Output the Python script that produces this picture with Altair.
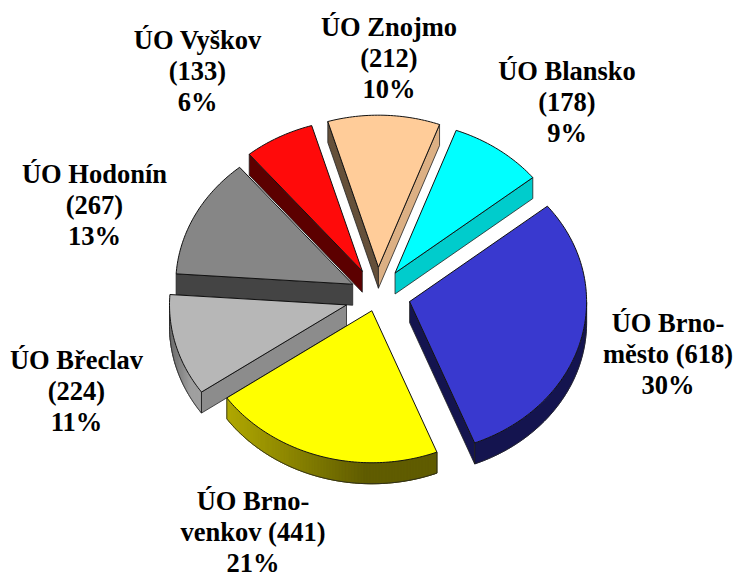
import math
import altair as alt
import pandas as pd

# --- chart values ---
names = ["ÚO Blansko", "ÚO Brno-město", "ÚO Brno-venkov", "ÚO Břeclav", "ÚO Hodonín", "ÚO Vyškov", "ÚO Znojmo"]
values = [178, 618, 441, 224, 267, 133, 212]
percents = [9, 30, 21, 11, 13, 6, 10]
label_lines = [
    ["ÚO Blansko", "(178)", "9%"],
    ["ÚO Brno-", "město (618)", "30%"],
    ["ÚO Brno-", "venkov (441)", "21%"],
    ["ÚO Břeclav", "(224)", "11%"],
    ["ÚO Hodonín", "(267)", "13%"],
    ["ÚO Vyškov", "(133)", "6%"],
    ["ÚO Znojmo", "(212)", "10%"],
]

# --- styles ---
top_colors = ["#00ffff", "#3939cf", "#ffff00", "#b7b7b7", "#868686", "#ff0a0a", "#ffcc99"]
outer_left = ["#00cccc", "#14144f", "#b0a800", "#6a6a6a", "#444444", "#5c0000", "#dcb084"]
outer_right = ["#00cccc", "#14144f", "#605c00", "#a0a0a0", "#444444", "#5c0000", "#dcb084"]
cut_start = ["#00cccc", "#14144f", "#14144f", "#8c8c8c", "#444444", "#5c0000", "#65503a"]
cut_end = ["#00cccc", "#14144f", "#b0a800", "#8c8c8c", "#444444", "#5c0000", "#dcb084"]
label_x = [567, 668, 253, 76.5, 94.5, 197.5, 389]
label_y = [80, 332, 510, 369, 183, 49, 36]
nudge_x = [0, 3, 3, -2, 2, -1, 0]
nudge_y = [1, 2, -7, 5, 3, 1, 0]
START_DEG = 20.2
EXPLODE = 0.17
DEPTH_PX = 21
RX, RY = 177, 152
CX, CY = 377.5, 293
W, H = 726, 571


def hex2rgb(h):
    return [int(h[i:i + 2], 16) for i in (1, 3, 5)]


def mix(a, b, t):
    ca, cb = hex2rgb(a), hex2rgb(b)
    return "#%02x%02x%02x" % tuple(round(x + (y - x) * t) for x, y in zip(ca, cb))


total = sum(values)
depth = DEPTH_PX / RY
tops, sides, edges = [], [], []
angle = START_DEG
for i, v in enumerate(values):
    sweep = v / total * 360
    a0, a1 = angle, angle + sweep
    angle = a1
    mid = math.radians((a0 + a1) / 2)
    ox = EXPLODE * math.sin(mid) + nudge_x[i] / RX
    oy = EXPLODE * math.cos(mid) - nudge_y[i] / RY
    n = max(6, int(sweep))
    angs = [a0 + sweep * k / n for k in range(n + 1)]
    arc = [(ox + math.sin(math.radians(a)), oy + math.cos(math.radians(a))) for a in angs]
    apex = (ox, oy)

    # top face
    for s, (x, y) in enumerate([apex] + arc):
        tops.append(dict(id=f"t{i}", s=s, x=x, y=y, fill=top_colors[i]))

    # outer face: only the part that turns towards the viewer
    vis = [p for a, p in zip(angs, arc) if math.cos(math.radians(a)) < 0]
    if len(vis) > 1:
        xs = [p[0] for p in vis]
        lo, hi = min(xs), max(xs)
        if outer_left[i] == outer_right[i]:
            poly = vis + [(p[0], p[1] - depth) for p in reversed(vis)]
            for s, (x, y) in enumerate(poly):
                sides.append(dict(id=f"o{i}_000", s=s, x=x, y=y, fill=outer_left[i], line=outer_left[i]))
        else:
            ordered = sorted(vis, key=lambda p: p[0])
            for k in range(len(ordered) - 1):
                j = min(k + 2, len(ordered) - 1)
                seg = ordered[k:j + 1]
                t = min(1, (ordered[k][0] - lo) / (hi - lo) / 0.65)
                col = mix(outer_left[i], outer_right[i], t)
                poly = seg + [(p[0], p[1] - depth) for p in reversed(seg)]
                for s, (x, y) in enumerate(poly):
                    sides.append(dict(id=f"o{i}_{k:03d}", s=s, x=x, y=y, fill=col, line=col))
        path = [vis[0]] + [(p[0], p[1] - depth) for p in vis] + [vis[-1]]
        for k, p in enumerate(path):
            edges.append(dict(id=f"e{i}", s=k, x=p[0], y=p[1]))

    # cut faces that turn towards the viewer
    if math.sin(math.radians(a0)) < 0:
        p = arc[0]
        for s, (x, y) in enumerate([apex, p, (p[0], p[1] - depth), (apex[0], apex[1] - depth)]):
            sides.append(dict(id=f"z{i}a", s=s, x=x, y=y, fill=cut_start[i], line="#222222"))
    if math.sin(math.radians(a1)) > 0:
        p = arc[-1]
        for s, (x, y) in enumerate([apex, p, (p[0], p[1] - depth), (apex[0], apex[1] - depth)]):
            sides.append(dict(id=f"z{i}b", s=s, x=x, y=y, fill=cut_end[i], line="#222222"))

x_scale = alt.Scale(domain=[(8 - CX) / RX, (8 + W - CX) / RX], nice=False, zero=False)
y_scale = alt.Scale(domain=[(CY - 8 - H) / RY, (CY - 8) / RY], nice=False, zero=False)
X = alt.X("x:Q", scale=x_scale, axis=None)
Y = alt.Y("y:Q", scale=y_scale, axis=None)

side_layer = alt.Chart(pd.DataFrame(sides)).mark_line(
    interpolate="linear-closed", strokeWidth=0.8
).encode(
    x=X, y=Y, order="s:Q", detail="id:N",
    fill=alt.Fill("fill:N", scale=None),
    stroke=alt.Stroke("line:N", scale=None),
)

edge_layer = alt.Chart(pd.DataFrame(edges)).mark_line(
    stroke="#222222", strokeWidth=0.8
).encode(x=X, y=Y, order="s:Q", detail="id:N")

top_layer = alt.Chart(pd.DataFrame(tops)).mark_line(
    interpolate="linear-closed", stroke="#111111", strokeWidth=1
).encode(
    x=X, y=Y, order="s:Q", detail="id:N",
    fill=alt.Fill("fill:N", scale=None),
)

labels = pd.DataFrame({
    "text": ["\n".join(l) for l in label_lines],
    "px": [v - 8 for v in label_x],
    "py": [v - 8 for v in label_y],
})
text_layer = alt.Chart(labels).mark_text(
    font="Liberation Serif", fontWeight="bold", fontSize=26.5,
    lineBreak="\n", lineHeight=31, align="center", baseline="alphabetic", color="black",
).encode(
    x=alt.X("px:Q", scale=None, axis=None),
    y=alt.Y("py:Q", scale=None, axis=None),
    text="text:N",
)

chart = alt.layer(side_layer, edge_layer, top_layer, text_layer).resolve_scale(
    x="independent", y="independent"
).properties(
    width=W, height=H, padding=0, autosize=alt.AutoSizeParams(type="none")
).configure_view(stroke=None)

chart.save("out.html", embed_options={"renderer": "svg", "actions": False})
